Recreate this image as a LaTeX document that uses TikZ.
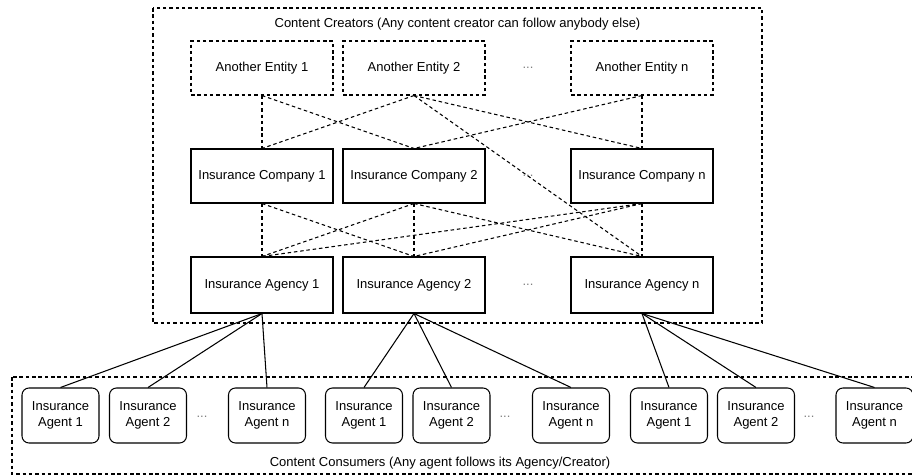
\documentclass[tikz,border=0pt]{standalone}
\usepackage{fontspec}
\setmainfont{Liberation Sans}
\begin{document}
\begin{tikzpicture}[
  ebox/.style={rectangle, draw, dash pattern=on 2pt off 1.6pt, minimum width=28.4mm, minimum height=10.8mm, inner sep=0pt},
  cbox/.style={rectangle, draw, minimum width=28.4mm, minimum height=10.8mm, inner sep=0pt},
  abox/.style={rectangle, draw, rounded corners=1.4mm, minimum width=15.4mm, minimum height=11mm, inner sep=0pt, align=center},
  dots/.style={text=gray},
  link/.style={dash pattern=on 2pt off 1.6pt},
  font=\fontsize{7.4}{9}\selectfont,
  line width=0.6pt
]
  \useasboundingbox (0, 0) rectangle (18.24, -9.5);

  % creators
  \draw[link] (3.06, -0.16) rectangle (15.24, -6.46);
  \node (ctitle) at (9.15, -0.48) {Content Creators (Any content creator can follow anybody else)};

  \node[ebox] (e1) at (5.24, -1.36) {Another Entity 1};
  \node[ebox] (e2) at (8.28, -1.36) {Another Entity 2};
  \node[dots] (edots) at (10.56, -1.36) {...};
  \node[ebox] (en) at (12.84, -1.36) {Another Entity n};

  \node[cbox] (c1) at (5.24, -3.52) {Insurance Company 1};
  \node[cbox] (c2) at (8.28, -3.52) {Insurance Company 2};
  \node[dots] (cdots) at (10.56, -3.52) {...};
  \node[cbox] (cn) at (12.84, -3.52) {Insurance Company n};

  \node[cbox, minimum height=11.2mm] (g1) at (5.24, -5.70) {Insurance Agency 1};
  \node[cbox, minimum height=11.2mm] (g2) at (8.28, -5.70) {Insurance Agency 2};
  \node[dots] (gdots) at (10.56, -5.70) {...};
  \node[cbox, minimum height=11.2mm] (gn) at (12.84, -5.70) {Insurance Agency n};

  \draw[link] (e1.south) -- (c1.north);
  \draw[link] (e1.south) -- (c2.north);
  \draw[link] (e2.south) -- (c1.north);
  \draw[link] (e2.south) -- (cn.north);
  \draw[link] (e2.south) -- (gn.north);
  \draw[link] (en.south) -- (c2.north);
  \draw[link] (en.south) -- (cn.north);

  \draw[link] (c1.south) -- (g1.north);
  \draw[link] (c1.south) -- (g2.north);
  \draw[link] (c2.south) -- (g1.north);
  \draw[link] (c2.south) -- (g2.north);
  \draw[link] (c2.south) -- (gn.north);
  \draw[link] (cn.south) -- (g1.north);
  \draw[link] (cn.south) -- (g2.north);
  \draw[link] (cn.south) -- (gn.north);

  % consumers
  \draw[link] (0.24, -7.54) rectangle (18.40, -9.48);
  \node (ktitle) at (8.8, -9.26) {Content Consumers (Any agent follows its Agency/Creator)};

  \node[abox] (a11) at (1.21, -8.31) {Insurance\\Agent 1};
  \node[abox] (a12) at (2.96, -8.31) {Insurance\\Agent 2};
  \node[dots] (adots1) at (4.04, -8.34) {...};
  \node[abox] (a1n) at (5.34, -8.31) {Insurance\\Agent n};

  \node[abox] (a21) at (7.28, -8.31) {Insurance\\Agent 1};
  \node[abox] (a22) at (9.03, -8.31) {Insurance\\Agent 2};
  \node[dots] (adots2) at (10.10, -8.34) {...};
  \node[abox] (a2n) at (11.42, -8.31) {Insurance\\Agent n};

  \node[abox] (a31) at (13.38, -8.31) {Insurance\\Agent 1};
  \node[abox] (a32) at (15.12, -8.31) {Insurance\\Agent 2};
  \node[dots] (adots3) at (16.18, -8.34) {...};
  \node[abox] (a3n) at (17.49, -8.31) {Insurance\\Agent n};

  \draw (g1.south) -- (a11.north);
  \draw (g1.south) -- (a12.north);
  \draw (g1.south) -- (a1n.north);
  \draw (g2.south) -- (a21.north);
  \draw (g2.south) -- (a22.north);
  \draw (g2.south) -- (a2n.north);
  \draw (gn.south) -- (a31.north);
  \draw (gn.south) -- (a32.north);
  \draw (gn.south) -- (a3n.north);
\end{tikzpicture}
\end{document}
